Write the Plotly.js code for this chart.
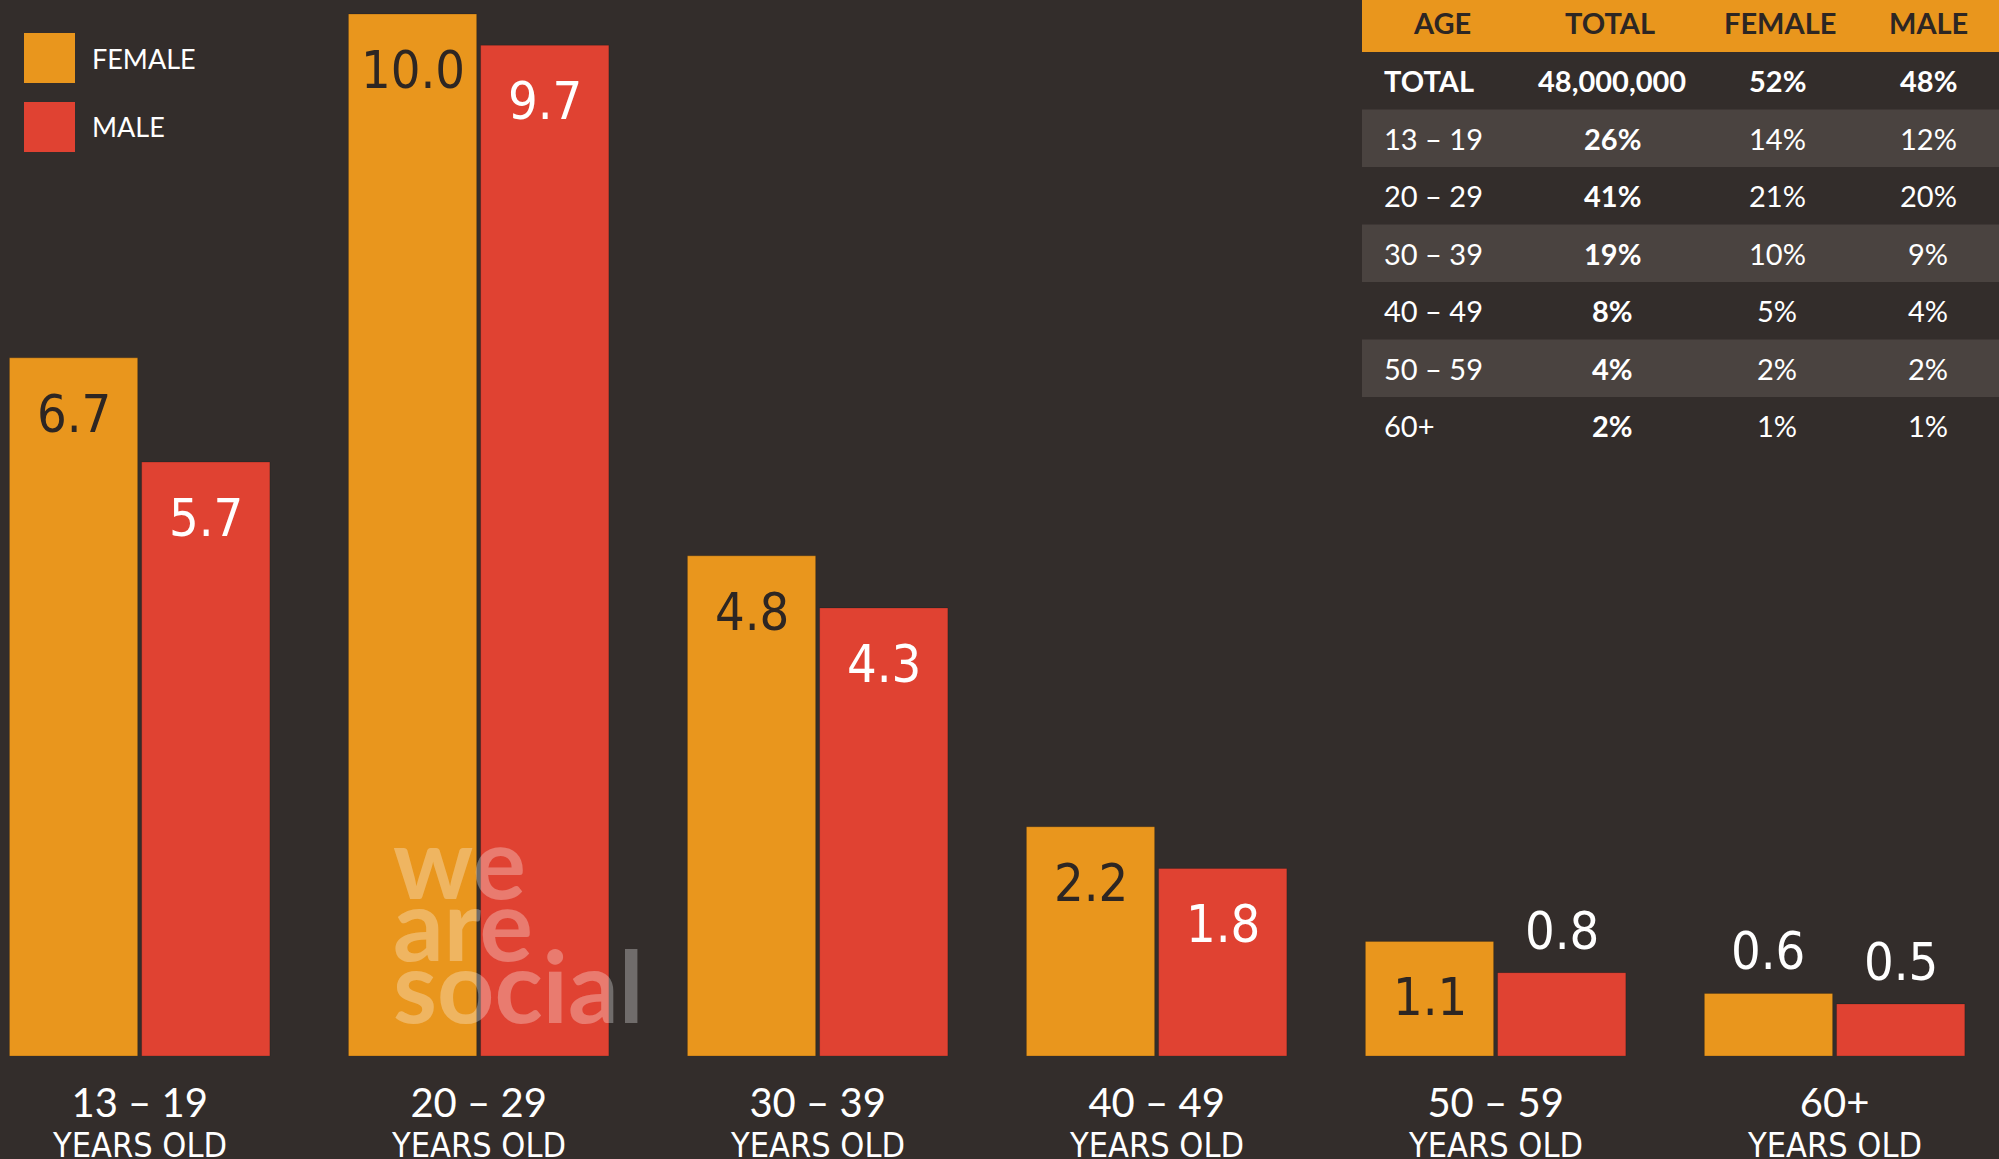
<!DOCTYPE html>
<html>
<head>
<meta charset="utf-8">
<script src="https://cdn.plot.ly/plotly-3.0.1.min.js"></script>
<style>
html,body{margin:0;padding:0;background:rgb(51,45,43);}
#chart{width:1999px;height:1159px;}
</style>
</head>
<body>
<div id="chart"></div>
<script>
// ---- data ----
const ageGroups = ['13 – 19', '20 – 29', '30 – 39', '40 – 49', '50 – 59', '60+'];
const subLabel = 'YEARS OLD';
const femaleValues = [6.7, 10.0, 4.8, 2.2, 1.1, 0.6];
const maleValues = [5.7, 9.7, 4.3, 1.8, 0.8, 0.5];
const seriesNames = ['FEMALE', 'MALE'];

const tableHeader = ['AGE', 'TOTAL', 'FEMALE', 'MALE'];
const tableAge = ['TOTAL', '13 – 19', '20 – 29', '30 – 39', '40 – 49', '50 – 59', '60+'];
const tableTotal = ['48,000,000', '26%', '41%', '19%', '8%', '4%', '2%'];
const tableFemale = ['52%', '14%', '21%', '10%', '5%', '2%', '1%'];
const tableMale = ['48%', '12%', '20%', '9%', '4%', '2%', '1%'];
const watermark = ['we', 'are', 'social'];

// ---- style ----
const W = 1999, H = 1159, MB = 103, PH = H - MB;
const BG = 'rgb(51,45,43)';
const ORANGE = 'rgb(233,150,29)';
const RED = 'rgb(224,66,50)';
const ROW_LIGHT = 'rgb(74,67,64)';
const DARK_TEXT = 'rgb(45,38,35)';
const NARROW = '"DejaVu Sans Condensed", sans-serif';
const LATO = 'Lato, sans-serif';
const bargap = 0.22;
const catPx = 339;
const slotShift = (1 - bargap) * catPx / 4;

const px = x => x / W;
const py = y => (PH - y) / PH;

const xIdx = ageGroups.map((_, i) => i);

const traces = [
  {type: 'bar', name: seriesNames[0], x: xIdx, y: femaleValues,
   marker: {color: ORANGE, line: {color: 'rgba(0,0,0,0.18)', width: 1}}, hoverinfo: 'skip'},
  {type: 'bar', name: seriesNames[1], x: xIdx, y: maleValues,
   marker: {color: RED, line: {color: 'rgba(0,0,0,0.18)', width: 1}}, hoverinfo: 'skip'}
];

const annotations = [];
const shapes = [];

// bar value labels
const addBarLabels = (vals, sign, inColor) => {
  vals.forEach((v, i) => {
    const inside = v >= 1;
    annotations.push({
      x: i, y: v, xref: 'x', yref: 'y', xshift: sign * slotShift,
      text: v.toFixed(1), showarrow: false,
      xanchor: 'center', yanchor: inside ? 'top' : 'bottom',
      yshift: inside ? -24 : 10,
      font: {family: NARROW, size: 52, color: inside ? inColor : 'white'}
    });
  });
};
addBarLabels(femaleValues, -1, DARK_TEXT);
addBarLabels(maleValues, 1, 'white');

// second line of category labels
xIdx.forEach(i => {
  annotations.push({
    x: i, y: 0, xref: 'x', yref: 'y', yshift: -89, text: subLabel, showarrow: false,
    xanchor: 'center', yanchor: 'middle',
    font: {family: NARROW, size: 34, color: 'white'}
  });
});

// legend
const legendItems = [
  {name: seriesNames[0], color: ORANGE, top: 33},
  {name: seriesNames[1], color: RED, top: 102}
];
legendItems.forEach(it => {
  shapes.push({type: 'rect', xref: 'paper', yref: 'paper',
    x0: px(24), x1: px(75), y0: py(it.top), y1: py(it.top + 50),
    fillcolor: it.color, line: {width: 0}});
  annotations.push({xref: 'paper', yref: 'paper', x: px(90), y: py(it.top + 25),
    xanchor: 'left', yanchor: 'middle', text: it.name, showarrow: false,
    font: {family: LATO, size: 27, color: 'white'}});
});

// table (top right)
const TX0 = 1362, HEAD_H = 52, ROW_H = 57.5;
const headCenters = [1442, 1610, 1780, 1928];
const colX = [1382, 1612, 1777, 1928];
shapes.push({type: 'rect', xref: 'paper', yref: 'paper',
  x0: px(TX0), x1: 1, y0: py(0), y1: py(HEAD_H), fillcolor: ORANGE, line: {width: 0}});
tableHeader.forEach((h, c) => {
  annotations.push({xref: 'paper', yref: 'paper', x: px(headCenters[c]), y: py(22),
    xanchor: 'center', yanchor: 'middle', text: '<b>' + h + '</b>', showarrow: false,
    font: {family: LATO, size: 29, color: DARK_TEXT}});
});
const tableCols = [tableAge, tableTotal, tableFemale, tableMale];
tableAge.forEach((_, r) => {
  const top = HEAD_H + r * ROW_H;
  if (r % 2 === 1) {
    shapes.push({type: 'rect', xref: 'paper', yref: 'paper',
      x0: px(TX0), x1: 1, y0: py(top), y1: py(top + ROW_H), fillcolor: ROW_LIGHT, line: {width: 0}});
  }
  tableCols.forEach((col, c) => {
    const isBold = r === 0 || c === 1;
    annotations.push({xref: 'paper', yref: 'paper', x: px(colX[c]), y: py(top + ROW_H / 2),
      xanchor: c === 0 ? 'left' : 'center', yanchor: 'middle',
      text: isBold ? '<b>' + col[r] + '</b>' : col[r], showarrow: false,
      font: {family: LATO, size: 29, color: 'white'}});
  });
});

// watermark
const wmShift = [196, 134, 72];
watermark.forEach((w, k) => {
  annotations.push({xref: 'paper', yref: 'y', x: px(391), y: 0, yshift: wmShift[k],
    xanchor: 'left', yanchor: 'middle', text: '<b>' + w + '</b>', showarrow: false,
    font: {family: LATO, size: 100, color: 'rgba(255,255,255,0.3)'}});
});

const layout = {
  width: W, height: H,
  margin: {l: 0, r: 0, t: 0, b: MB, pad: 0},
  paper_bgcolor: BG, plot_bgcolor: BG,
  barmode: 'group', bargap: bargap, bargroupgap: 0.03,
  showlegend: false,
  xaxis: {range: [-0.412, 5.485], tickvals: xIdx, ticktext: ageGroups,
    showgrid: false, zeroline: false, showline: false, ticks: '',
    ticklabelstandoff: 20,
    tickfont: {family: LATO, size: 40, color: 'white'}, fixedrange: true},
  yaxis: {range: [0, PH / 104.2], visible: false, fixedrange: true},
  annotations: annotations,
  shapes: shapes
};

Plotly.newPlot('chart', traces, layout, {displayModeBar: false, staticPlot: true});
</script>
</body>
</html>
